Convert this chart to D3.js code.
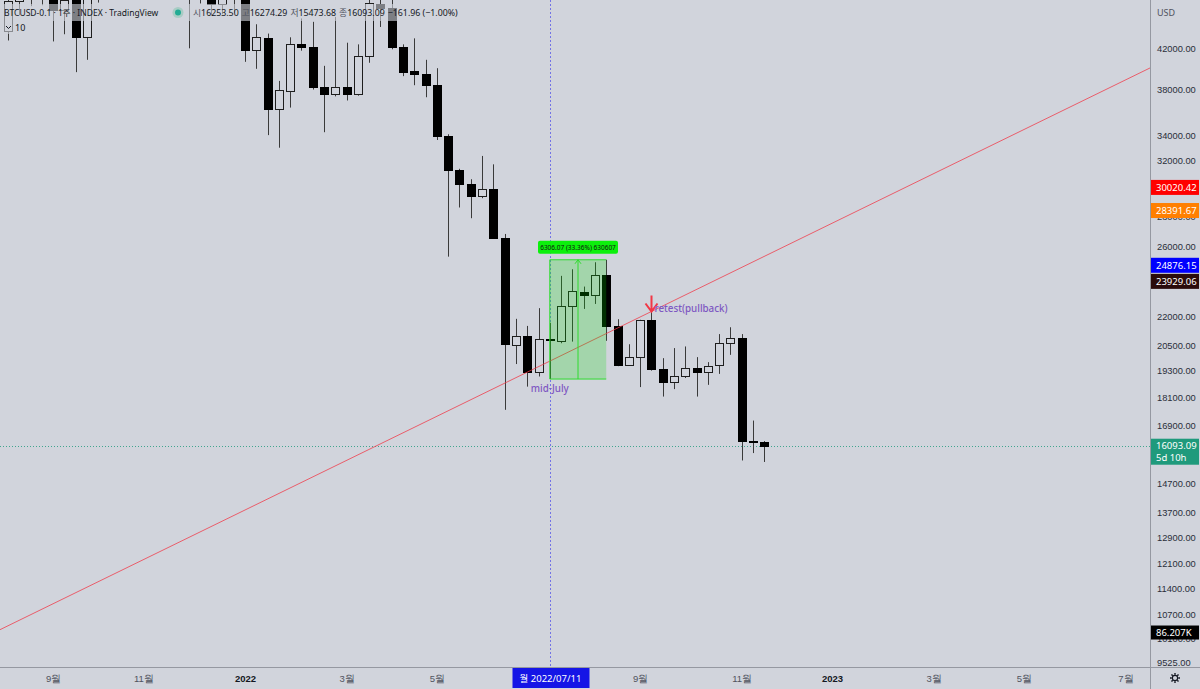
<!DOCTYPE html>
<html>
<head>
<meta charset="utf-8">
<script src="https://cdn.jsdelivr.net/npm/d3@7"></script>
<style>
html, body { margin: 0; padding: 0; background: #d1d4dc; }
svg { display: block; font-family: "Noto Sans", "Noto Sans CJK KR", sans-serif; }
</style>
</head>
<body>
<svg id="chart" width="1200" height="689"></svg>
<script>
// weekly candles: [week start, open, high, low, close]
const CANDLES_2021 = [
    ["2021-08-09", 43800, 48100, 42800, 47050],
    ["2021-08-16", 47050, 49000, 45500, 49300],
    ["2021-08-23", 49300, 50500, 46500, 48800],
    ["2021-08-30", 48800, 52900, 46600, 51800],
    ["2021-09-06", 51800, 52900, 42700, 46050],
    ["2021-09-13", 46050, 48800, 43450, 47250],
    ["2021-09-20", 47250, 47900, 39650, 43200],
    ["2021-09-27", 43200, 48500, 40850, 48200],
    ["2021-10-04", 48200, 56500, 46900, 54950],
    ["2021-10-11", 54950, 62900, 53900, 61500],
    ["2021-10-18", 61500, 67000, 59600, 61300],
    ["2021-10-25", 61300, 63700, 58000, 61000],
    ["2021-11-01", 61000, 67300, 60100, 64900],
    ["2021-11-08", 64900, 69000, 62300, 65500],
    ["2021-11-15", 65500, 66300, 55600, 58600],
    ["2021-11-22", 58600, 59300, 53300, 57300],
    ["2021-11-29", 57300, 59200, 42000, 49400],
    ["2021-12-06", 49400, 51900, 46800, 50100],
    ["2021-12-13", 50100, 51000, 45500, 46700],
    ["2021-12-20", 46700, 51900, 45600, 50800],
    ["2021-12-27", 50800, 52100, 45700, 47300],
];
const CANDLES_2022 = [
    ["2022-01-03", 47300, 47600, 40650, 41830],
    ["2022-01-10", 41830, 44510, 39970, 43130],
    ["2022-01-17", 43100, 43520, 34060, 36290],
    ["2022-01-24", 36290, 38820, 33040, 37950],
    ["2022-01-31", 37900, 43130, 36400, 42440],
    ["2022-02-07", 42440, 45140, 41760, 42100],
    ["2022-02-14", 42100, 44770, 38020, 38230],
    ["2022-02-21", 38230, 40260, 34300, 37620],
    ["2022-02-28", 37600, 45310, 37400, 38300],
    ["2022-03-07", 38300, 42570, 37030, 37620],
    ["2022-03-14", 37620, 42400, 37460, 41260],
    ["2022-03-21", 41260, 47400, 40560, 46800],
    ["2022-03-28", 46700, 48200, 44220, 46300],
    ["2022-04-04", 46300, 47200, 41900, 42160],
    ["2022-04-11", 42160, 42400, 39270, 39680],
    ["2022-04-18", 39750, 43020, 38420, 39500],
    ["2022-04-25", 39500, 40850, 37320, 38400],
    ["2022-05-02", 38400, 40030, 33660, 34000],
    ["2022-05-09", 34000, 34130, 25400, 31300],
    ["2022-05-16", 31300, 31400, 28600, 30250],
    ["2022-05-23", 30250, 30620, 27870, 29410],
    ["2022-05-30", 29410, 32390, 29250, 29900],
    ["2022-06-06", 29900, 31740, 26550, 26580],
    ["2022-06-13", 26560, 26830, 17550, 20550],
    ["2022-06-20", 20500, 21860, 19600, 20980],
    ["2022-06-27", 20980, 21490, 18560, 19250],
    ["2022-07-04", 19250, 22430, 19020, 20810],
    ["2022-07-11", 20840, 21650, 18903, 20760],
    ["2022-07-18", 20740, 24250, 20610, 22550],
    ["2022-07-25", 22550, 24640, 20690, 23400],
    ["2022-08-01", 23300, 23630, 22390, 23170],
    ["2022-08-08", 23170, 25060, 22660, 24300],
    ["2022-08-15", 24300, 25209, 20730, 21460],
    ["2022-08-22", 21460, 21840, 19500, 19550],
    ["2022-08-29", 19560, 20560, 19540, 19950],
    ["2022-09-05", 19950, 21810, 18540, 21810],
    ["2022-09-12", 21810, 22720, 19290, 19370],
    ["2022-09-19", 19380, 19880, 18120, 18760],
    ["2022-09-26", 18760, 20370, 18450, 19020],
    ["2022-10-03", 19020, 20450, 18950, 19410],
    ["2022-10-10", 19410, 19930, 18120, 19220],
    ["2022-10-17", 19220, 19690, 18640, 19530],
    ["2022-10-24", 19560, 21070, 19140, 20610],
    ["2022-10-31", 20610, 21420, 20040, 20870],
    ["2022-11-07", 20870, 21070, 15530, 16280],
    ["2022-11-14", 16290, 17100, 15810, 16253.5],
    ["2022-11-21", 16253.5, 16274.29, 15473.68, 16093.09],
];

// price ticks hidden under the coloured tags are left out
const PRICE_TICKS = [42000, 38000, 34000, 32000, 28000, 26000, 22000, 20500,
    19300, 18100, 16900, 14700, 13700, 12900, 12100, 11400, 10700, 10100, 9525];
const TIME_TICKS = ["2021-09-06", "2021-11-01", "2022-01-03", "2022-03-07", "2022-05-02",
    "2022-09-05", "2022-11-07", "2023-01-02", "2023-03-06", "2023-05-01", "2023-07-03"];

const TAG_VALUES = [30020.42, 28391.67, 24876.15, 23929.06];
const LAST_PRICE = 16093.09;
const LAST_COUNTDOWN = "5d 10h";
const LAST_VOLUME = 86207;
const VOLUME_MAX = 500000;

const TREND_POINTS = [["2021-08-09", 10420], ["2022-09-12", 22250]];
const RANGE_DATES = ["2022-07-11", "2022-08-15"];
const RANGE_PRICES = [18903.39, 25209.46];
const CROSSHAIR_DATE = "2022-07-11";
const NOTES = [
    { text: "retest(pullback)", date: "2022-09-12", price: 22250 },
    { text: "mid-July", date: "2022-07-11", price: 18903.39 },
];

const HEADER_TITLE = "BTCUSD-0.1 · 1주 · INDEX · TradingView";
const HEADER_OHLC = [["시", "16253.50"], ["고", "16274.29"], ["저", "15473.68"], ["종", "16093.09"]];
const HEADER_CHANGE = "−161.96 (−1.00%)";

// ── Layout / style ─────────────────────────────────────────────────────────
const W = 1200, H = 689;
const PLOT_R = 1150, PLOT_B = 667;
const BG = "#d1d4dc";
const AXIS_LINE = "#9598a1";
const TEXT = "#131722";
const TAG_COLORS = ["#ff0000", "#ff7f00", "#0000ff", "#2a0b0b"];
const LAST_COLOR = "#1f9a7c";
const PURPLE = "#7e57c2";

const parse = d3.utcParse("%Y-%m-%d");
const candles = [...CANDLES_2021, ...CANDLES_2022].map(([d, o, h, l, c]) => ({ date: parse(d), o, h, l, c }));

const x = d3.scaleUtc().domain([parse("2022-01-03"), parse("2023-01-02")]).range([245, 832]);
const y = d3.scaleLog().domain([9525, 42000]).range([663, 48.3]);
const yVol = d3.scaleLinear().domain([0, VOLUME_MAX]).range([PLOT_B, PLOT_B - 200]);

const svg = d3.select("#chart");
svg.append("rect").attr("width", W).attr("height", H).attr("fill", BG);

const defs = svg.append("defs");
defs.append("clipPath").attr("id", "plot-clip")
    .append("rect").attr("width", PLOT_R).attr("height", PLOT_B);
defs.append("clipPath").attr("id", "axis-clip")
    .append("rect").attr("x", PLOT_R).attr("width", W - PLOT_R).attr("height", PLOT_B);

const plot = svg.append("g").attr("clip-path", "url(#plot-clip)");

// current price line + crosshair
plot.append("line")
    .attr("x1", 0).attr("x2", PLOT_R)
    .attr("y1", Math.round(y(LAST_PRICE)) + 0.5).attr("y2", Math.round(y(LAST_PRICE)) + 0.5)
    .attr("stroke", LAST_COLOR).attr("stroke-dasharray", "1,2").attr("opacity", 0.8);
const cx0 = Math.round(x(parse(CROSSHAIR_DATE))) + 0.5;
plot.append("line")
    .attr("x1", cx0).attr("x2", cx0).attr("y1", 0).attr("y2", PLOT_B)
    .attr("stroke", "#5c5ce8").attr("stroke-dasharray", "2,2").attr("opacity", 0.8);

// ── Candles ────────────────────────────────────────────────────────────────
const step = x(parse("2022-01-10")) - x(parse("2022-01-03"));
const half = Math.round(step * 0.75 / 2);

const cg = plot.append("g");
candles.forEach(d => {
    const cx = Math.round(x(d.date));
    const up = d.c >= d.o;
    let top = Math.round(y(Math.max(d.o, d.c)));
    let bot = Math.round(y(Math.min(d.o, d.c)));
    if (bot - top < 1) bot = top + 1;
    const wick = "#3a3a3a";
    cg.append("line")
        .attr("x1", cx + 0.5).attr("x2", cx + 0.5)
        .attr("y1", y(d.h)).attr("y2", top)
        .attr("stroke", wick);
    cg.append("line")
        .attr("x1", cx + 0.5).attr("x2", cx + 0.5)
        .attr("y1", bot).attr("y2", y(d.l))
        .attr("stroke", wick);
    cg.append("rect")
        .attr("x", cx - half + 0.5).attr("y", top + 0.5)
        .attr("width", half * 2).attr("height", bot - top)
        .attr("fill", up ? "none" : "#000")
        .attr("stroke", up ? "#1e1e1e" : "#000");
});

// ── Trend line (extended both ways) ────────────────────────────────────────
const [p1, p2] = TREND_POINTS.map(([d, v]) => [x(parse(d)), y(v)]);
const slope = (p2[1] - p1[1]) / (p2[0] - p1[0]);
plot.append("line")
    .attr("x1", 0).attr("y1", p1[1] - slope * p1[0])
    .attr("x2", PLOT_R).attr("y2", p1[1] + slope * (PLOT_R - p1[0]))
    .attr("stroke", "#f23645").attr("stroke-width", 1).attr("opacity", 0.75);

// ── Date & price range box ─────────────────────────────────────────────────
const rx0 = x(parse(RANGE_DATES[0])), rx1 = x(parse(RANGE_DATES[1]));
const ry0 = y(RANGE_PRICES[1]), ry1 = y(RANGE_PRICES[0]);
const rmid = (rx0 + rx1) / 2;
const rg = plot.append("g");
rg.append("rect")
    .attr("x", rx0).attr("y", ry0).attr("width", rx1 - rx0).attr("height", ry1 - ry0)
    .attr("fill", "rgba(0,220,0,0.22)");
rg.append("path")
    .attr("d", `M${rx0},${ry1}V${ry0}H${rx1}M${rx0},${ry1}H${rx1}`)
    .attr("fill", "none").attr("stroke", "#2fdc2f").attr("stroke-width", 1);
rg.append("path")
    .attr("d", `M${rmid},${ry1}V${ry0}M${rmid - 3},${ry0 + 4}L${rmid},${ry0}L${rmid + 3},${ry0 + 4}`)
    .attr("fill", "none").attr("stroke", "#2fdc2f").attr("stroke-width", 1);

const diff = RANGE_PRICES[1] - RANGE_PRICES[0];
const rangeText = `${diff.toFixed(2)} (${(diff / RANGE_PRICES[0] * 100).toFixed(2)}%) ${Math.round(diff * 100)}`;
rg.append("rect")
    .attr("x", rmid - 40).attr("y", ry0 - 19).attr("width", 80).attr("height", 13)
    .attr("rx", 2).attr("fill", "#0cf00c");
rg.append("text")
    .attr("x", rmid).attr("y", ry0 - 10)
    .attr("text-anchor", "middle").attr("font-size", 6.5).attr("fill", "#111")
    .text(rangeText);

// ── Notes ──────────────────────────────────────────────────────────────────
const retest = NOTES[0];
const ax = Math.round(x(parse(retest.date))) + 0.5, ay = y(retest.price);
plot.append("path")
    .attr("d", `M${ax},${ay - 16}V${ay}M${ax - 6},${ay - 8}L${ax},${ay}L${ax + 6},${ay - 8}`)
    .attr("fill", "none").attr("stroke", "#f23645").attr("stroke-width", 2);
plot.append("text")
    .attr("x", ax + 3).attr("y", ay)
    .attr("font-size", 9.8).attr("font-weight", 500).attr("fill", PURPLE)
    .text(retest.text);

const mid = NOTES[1];
plot.append("text")
    .attr("x", x(parse(mid.date))).attr("y", y(mid.price) + 13)
    .attr("text-anchor", "middle").attr("font-size", 9.8).attr("font-weight", 500).attr("fill", PURPLE)
    .text(mid.text);

// ── Header ─────────────────────────────────────────────────────────────────
const header = svg.append("g");
header.append("rect").attr("x", 0).attr("y", 4).attr("width", 433).attr("height", 17)
    .attr("fill", BG).attr("opacity", 0.6);
header.append("rect").attr("x", 0).attr("y", 21).attr("width", 28).attr("height", 13)
    .attr("fill", BG).attr("opacity", 0.6);
header.append("text").attr("x", 4).attr("y", 16)
    .attr("font-size", 8.5).attr("fill", TEXT).text(HEADER_TITLE);
header.append("circle").attr("cx", 178).attr("cy", 12.5).attr("r", 5.5).attr("fill", "#a9ccc4");
header.append("circle").attr("cx", 178).attr("cy", 12.5).attr("r", 3).attr("fill", "#22ab94");
const ohlc = header.append("text").attr("x", 193).attr("y", 16).attr("font-size", 8.8).attr("fill", TEXT);
HEADER_OHLC.forEach(([k, v], i) => {
    ohlc.append("tspan").attr("fill", "#50535e").attr("dx", i ? 3 : 0).text(k);
    ohlc.append("tspan").text(v);
});
ohlc.append("tspan").attr("dx", 3).text(HEADER_CHANGE);
header.append("path").attr("d", "M6,26L8.5,28.5L11,26")
    .attr("fill", "none").attr("stroke", TEXT).attr("stroke-width", 1);
header.append("text").attr("x", 15).attr("y", 30.5)
    .attr("font-size", 9).attr("fill", TEXT).text("10");

// ── Axes ───────────────────────────────────────────────────────────────────
svg.append("line").attr("x1", PLOT_R + 0.5).attr("x2", PLOT_R + 0.5).attr("y1", 0).attr("y2", H)
    .attr("stroke", AXIS_LINE);
svg.append("line").attr("x1", 0).attr("x2", W).attr("y1", PLOT_B + 0.5).attr("y2", PLOT_B + 0.5)
    .attr("stroke", AXIS_LINE);

const yAxis = svg.append("g").attr("clip-path", "url(#axis-clip)")
    .append("g")
    .attr("transform", `translate(${PLOT_R},0)`)
    .call(d3.axisRight(y).tickValues(PRICE_TICKS).tickFormat(d3.format(".2f")).tickSize(0).tickPadding(7));
yAxis.select(".domain").remove();
yAxis.selectAll("text").attr("font-size", 9.3).attr("fill", "#2a2e39").attr("font-family", null);

svg.append("text").attr("x", 1157).attr("y", 16).attr("font-size", 9).attr("fill", "#50535e").text("USD");

const xAxis = svg.append("g")
    .attr("transform", `translate(0,${PLOT_B})`)
    .call(d3.axisBottom(x).tickValues(TIME_TICKS.map(parse)).tickSize(0).tickPadding(8)
        .tickFormat(d => d.getUTCMonth() === 0 ? d.getUTCFullYear() : `${d.getUTCMonth() + 1}월`));
xAxis.select(".domain").remove();
xAxis.selectAll("text")
    .attr("font-size", 9.5).attr("font-family", null)
    .attr("fill", d => d.getUTCMonth() === 0 ? TEXT : "#50535e")
    .attr("font-weight", d => d.getUTCMonth() === 0 ? "bold" : null);

// crosshair date label
const chDate = parse(CROSSHAIR_DATE);
svg.append("rect").attr("x", cx0 - 38).attr("y", PLOT_B + 1).attr("width", 77).attr("height", 20)
    .attr("fill", "#1515e6");
svg.append("text").attr("x", cx0).attr("y", PLOT_B + 15)
    .attr("text-anchor", "middle").attr("font-size", 9.5).attr("fill", "#fff")
    .text(`월 ${d3.utcFormat("%Y/%m/%d")(chDate)}`);

// price tags
const tags = svg.append("g");
TAG_VALUES.forEach((v, i) => {
    const ty = y(v);
    tags.append("rect").attr("x", PLOT_R + 1).attr("y", ty - 7.5).attr("width", 48).attr("height", 15)
        .attr("fill", TAG_COLORS[i]);
    tags.append("text").attr("x", 1156).attr("y", ty + 3.5)
        .attr("font-size", 9.5).attr("fill", "#fff").text(d3.format(".2f")(v));
});
const ly = y(LAST_PRICE);
tags.append("rect").attr("x", PLOT_R + 1).attr("y", ly - 7).attr("width", 48).attr("height", 26)
    .attr("fill", LAST_COLOR);
tags.append("text").attr("x", 1156).attr("y", ly + 3.5)
    .attr("font-size", 9.5).attr("fill", "#fff").text(d3.format(".2f")(LAST_PRICE));
tags.append("text").attr("x", 1156).attr("y", ly + 15.5)
    .attr("font-size", 9.5).attr("fill", "#fff").text(LAST_COUNTDOWN);
const vy = yVol(LAST_VOLUME);
tags.append("rect").attr("x", PLOT_R + 1).attr("y", vy - 7).attr("width", 48).attr("height", 14)
    .attr("fill", "#000");
tags.append("text").attr("x", 1156).attr("y", vy + 3.5)
    .attr("font-size", 9.5).attr("fill", "#fff").text(d3.format(".5s")(LAST_VOLUME).replace("k", "K"));

// settings gear
const gear = svg.append("g").attr("transform", "translate(1175,678)")
    .attr("stroke", TEXT).attr("fill", "none");
gear.append("circle").attr("r", 2.6).attr("stroke-width", 1.1);
d3.range(8).forEach(i => {
    const a = i * Math.PI / 4;
    gear.append("line")
        .attr("x1", Math.cos(a) * 3.2).attr("y1", Math.sin(a) * 3.2)
        .attr("x2", Math.cos(a) * 5).attr("y2", Math.sin(a) * 5)
        .attr("stroke-width", 1.4);
});
</script>
</body>
</html>
